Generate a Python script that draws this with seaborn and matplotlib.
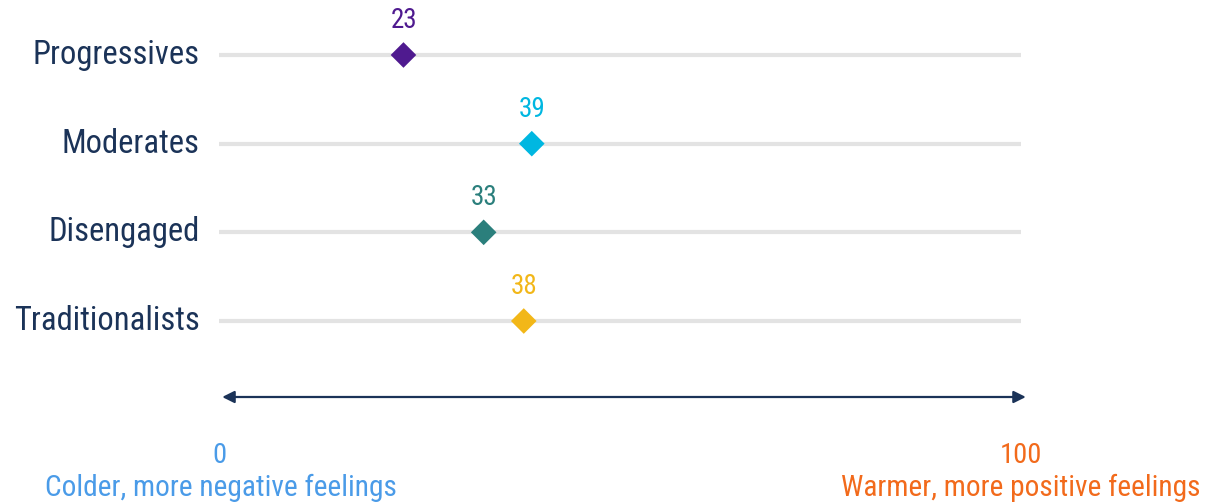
import matplotlib
matplotlib.use("Agg")
import matplotlib.pyplot as plt
import seaborn as sns
import pandas as pd

groups = ["Progressives", "Moderates", "Disengaged", "Traditionalists"]
scores = [23, 39, 33, 38]
colors = ["#4F1A8F", "#00B7E1", "#2B7F7C", "#F2B718"]
scale_min, scale_max = 0, 100
left_caption = "Colder, more negative feelings"
right_caption = "Warmer, more positive feelings"

sns.set_theme(style="white")
plt.rcParams["font.family"] = ["Roboto Condensed", "DejaVu Sans"]

navy = "#1B3358"
cold = "#4A9BE8"
warm = "#F26A1B"
df = pd.DataFrame({"group": groups, "score": scores})
df["row"] = range(len(groups))

W, H = 1225, 503
fig = plt.figure(figsize=(W / 100, H / 100), dpi=100)
x0, x1 = 219, 1021
ax = fig.add_axes([x0 / W, 0, (x1 - x0) / W, 1])
row0, step = 55, 88.67
ax.set_xlim(scale_min, scale_max)
ax.set_ylim((H - row0) / step, -row0 / step)
px = 1 / step  # one pixel in row units

for i in range(len(groups)):
    ax.plot([scale_min, scale_max], [i, i], color="#E3E3E3", lw=3,
            solid_capstyle="round", zorder=1)

sns.scatterplot(data=df, x="score", y="row", hue="group", palette=colors,
                marker="D", s=170, linewidth=0, legend=False, ax=ax, zorder=3)

for i, (v, c) in enumerate(zip(scores, colors)):
    ax.text(v + 0.1, i - 27 * px, str(v), color=c, fontsize=19.5,
            ha="center", va="baseline")
    ax.text(-2.4, i + 9 * px, groups[i], color=navy, fontsize=23.5,
            ha="right", va="baseline")

ay = (397 - row0) / step
ax.annotate("", xy=(scale_min + 0.4, ay), xytext=(scale_max + 0.6, ay),
            arrowprops=dict(arrowstyle="<|-|>", color=navy, lw=1.6,
                            mutation_scale=18, shrinkA=0, shrinkB=0),
            annotation_clip=False)

ly = (463 - row0) / step
ax.text(scale_min, ly, str(scale_min), color=cold, fontsize=20.5,
        ha="center", va="baseline")
ax.text(scale_max, ly, str(scale_max), color=warm, fontsize=20.5,
        ha="center", va="baseline")
cy = (496 - row0) / step
ax.text(scale_min + 0.2, cy, left_caption, color=cold, fontsize=21.2,
        ha="center", va="baseline", clip_on=False)
ax.text(scale_max + 22.4, cy, right_caption, color=warm, fontsize=21.2,
        ha="right", va="baseline", clip_on=False)

ax.axis("off")
fig.savefig("out.png", dpi=100)
